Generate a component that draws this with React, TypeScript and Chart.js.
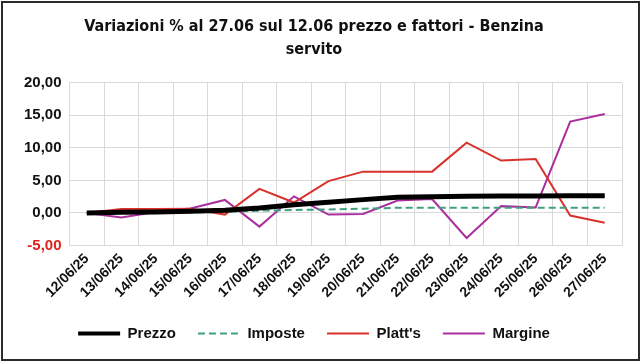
import React, { useEffect, useRef } from "react";
import { Chart, registerables } from "chart.js";

Chart.register(...registerables);

const titleLines = ["Variazioni % al 27.06 sul 12.06 prezzo e fattori - Benzina", "servito"];

const labels = [
  "12/06/25", "13/06/25", "14/06/25", "15/06/25", "16/06/25", "17/06/25", "18/06/25", "19/06/25",
  "20/06/25", "21/06/25", "22/06/25", "23/06/25", "24/06/25", "25/06/25", "26/06/25", "27/06/25",
];

const prezzo = [0, 0.1, 0.15, 0.25, 0.4, 0.75, 1.25, 1.65, 2.05, 2.4, 2.5, 2.55, 2.6, 2.62, 2.64, 2.65];
const imposte = [0, 0, 0.05, 0.1, 0.15, 0.35, 0.45, 0.55, 0.65, 0.8, 0.8, 0.8, 0.8, 0.8, 0.8, 0.8];
const platts = [0, 0.6, 0.6, 0.65, -0.25, 3.7, 1.6, 4.9, 6.35, 6.35, 6.35, 10.8, 8.05, 8.3, -0.4, -1.5];
const margine = [0, -0.7, 0.15, 0.7, 2.0, -2.1, 2.55, -0.25, -0.15, 1.9, 2.15, -3.85, 1.05, 0.85, 14.05, 15.2];

const yMin = -5;
const yMax = 20;
const yStep = 5;

const LEGEND_LINE = 42;
const legendLineWidths = [4, 2, 2, 2];

const tickFont = { family: "'Liberation Sans', Arial, sans-serif", size: 14, weight: "bold" as const };

const legendLinePlugin = {
  id: "legendLines",
  afterDraw(chart: any) {
    const legend = chart.legend;
    if (!legend || !legend.legendHitBoxes) return;
    const ctx = chart.ctx;
    legend.legendHitBoxes.forEach((hb: any, i: number) => {
      const ds = chart.data.datasets[i];
      if (!ds) return;
      const cy = hb.top + hb.height / 2;
      ctx.save();
      ctx.beginPath();
      ctx.strokeStyle = ds.borderColor;
      ctx.lineWidth = legendLineWidths[i];
      ctx.lineCap = "butt";
      ctx.setLineDash(ds.borderDash || []);
      ctx.moveTo(hb.left, cy);
      ctx.lineTo(hb.left + LEGEND_LINE, cy);
      ctx.stroke();
      ctx.restore();
    });
  },
};

export default function App() {
  const ref = useRef<HTMLCanvasElement>(null);

  useEffect(() => {
    document.body.style.margin = "0";
    const chart = new Chart(ref.current!, {
      type: "line",
      data: {
        labels,
        datasets: [
          { label: "Prezzo", data: prezzo, borderColor: "#000000", backgroundColor: "#000000", borderWidth: 5, pointRadius: 0, tension: 0, order: 0 },
          { label: "Imposte", data: imposte, borderColor: "#3f9f7f", backgroundColor: "#3f9f7f", borderWidth: 2, borderDash: [7, 4], pointRadius: 0, tension: 0, order: 1 },
          { label: "Platt's", data: platts, borderColor: "#d8322c", backgroundColor: "#d8322c", borderWidth: 2, pointRadius: 0, tension: 0, order: 2 },
          { label: "Margine", data: margine, borderColor: "#aa2f9f", backgroundColor: "#aa2f9f", borderWidth: 2, pointRadius: 0, tension: 0, order: 3 },
        ],
      },
      plugins: [legendLinePlugin],
      options: {
        responsive: false,
        animation: false,
        devicePixelRatio: 1,
        layout: { padding: { left: 6, right: 21, top: 5, bottom: 12 } },
        plugins: {
          title: {
            display: true,
            text: titleLines,
            color: "#111111",
            font: { family: "'Liberation Sans Narrow', 'DejaVu Sans Condensed', sans-serif", size: 16, weight: "bold", lineHeight: 1.4 },
            padding: { top: 11, bottom: 22 },
          },
          legend: {
            position: "bottom",
            labels: {
              usePointStyle: true,
              pointStyle: "line",
              pointStyleWidth: LEGEND_LINE,
              padding: 22,
              color: "#111111",
              font: { family: "'Liberation Sans', Arial, sans-serif", size: 15, weight: "bold" },
              generateLabels: (c: any) =>
                Chart.defaults.plugins.legend.labels.generateLabels(c).map((it: any) => ({
                  ...it,
                  strokeStyle: "rgba(0,0,0,0)",
                  fillStyle: "rgba(0,0,0,0)",
                  lineWidth: 0,
                })),
            },
          },
          tooltip: { enabled: false },
        },
        scales: {
          x: {
            offset: true,
            grid: { offset: true, color: "#d9d9d9", drawTicks: false },
            border: { color: "#d9d9d9" },
            ticks: { autoSkip: false, maxRotation: 45, minRotation: 45, padding: 5, color: "#111111", font: tickFont },
            afterFit: (scale: any) => { scale.height = 58.5; },
          },
          y: {
            min: yMin,
            max: yMax,
            grid: { color: "#d9d9d9", drawTicks: false },
            border: { color: "#d9d9d9" },
            ticks: {
              stepSize: yStep,
              padding: 8,
              font: { family: "'Liberation Sans', Arial, sans-serif", size: 15, weight: "bold" },
              color: (ctx: any) => (ctx.tick && ctx.tick.value < 0 ? "#e0201b" : "#111111"),
              callback: (v: any) => Number(v).toFixed(2).replace(".", ","),
            },
            afterFit: (scale: any) => { scale.width = 63.5; },
          },
        },
      },
    });
    return () => chart.destroy();
  }, []);

  return (
    <div style={{ position: "relative", width: 643, height: 363, background: "#ffffff" }}>
      <canvas ref={ref} width={643} height={363} style={{ display: "block" }} />
      <div
        style={{
          position: "absolute",
          left: 1,
          top: 1,
          width: 639,
          height: 360,
          border: "2px solid #2a2a2a",
          boxSizing: "border-box",
          pointerEvents: "none",
        }}
      />
    </div>
  );
}
